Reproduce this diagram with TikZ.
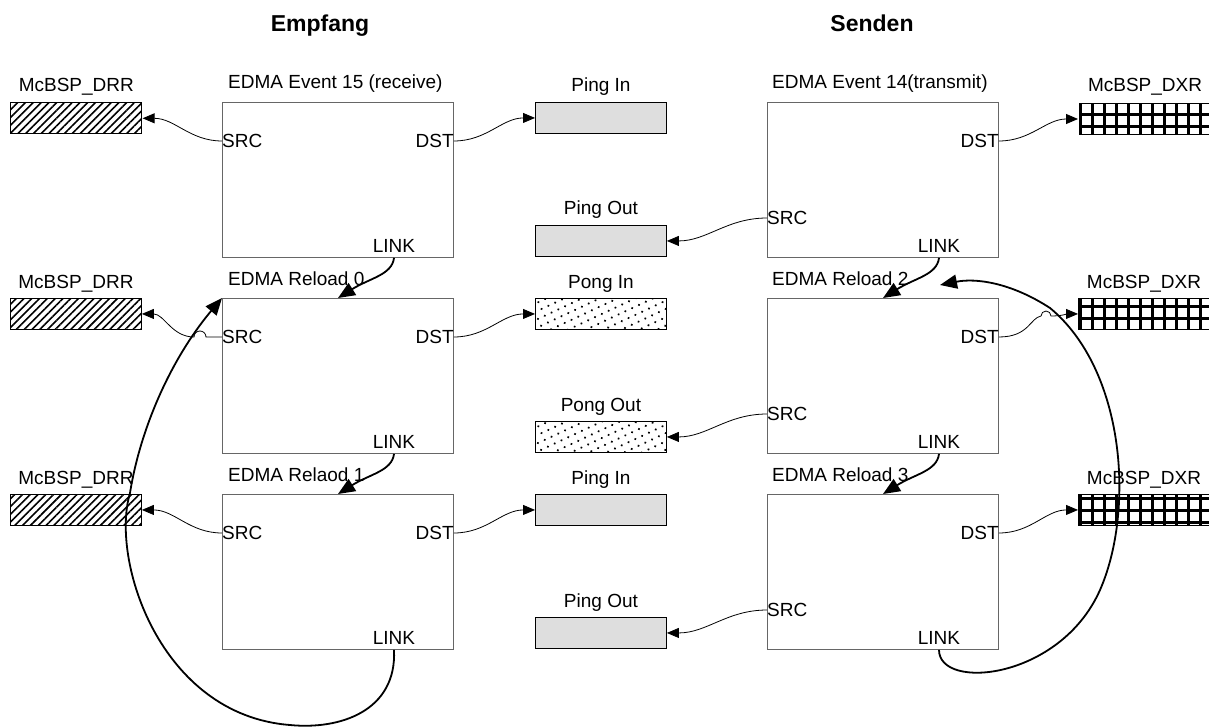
\documentclass[tikz,border=0pt]{standalone}
\usepackage{fontspec}
\setmainfont{Liberation Sans}
\usetikzlibrary{arrows.meta,patterns.meta,calc}

\begin{document}
\begin{tikzpicture}[x=1pt,y=-1pt,
  every node/.style={font=\fontsize{19}{22}\selectfont, inner sep=0pt},
  edma/.style={draw=black!60, line width=0.9pt, minimum width=231pt, minimum height=155pt, anchor=north west},
  buf/.style={draw=black, line width=0.9pt, minimum width=131pt, minimum height=31pt, anchor=north west},
  ping/.style={buf, fill=black!13},
  pong/.style={buf, pattern={Dots[distance=7.5pt,radius=1.2pt,angle=25]}},
  drr/.style={buf, pattern={Lines[angle=45,distance=5.5pt,line width=1.6pt]}},
  dxr/.style={buf, pattern={Hatch[angle=0,distance=12pt,line width=3pt]}},
  caption/.style={anchor=base},
  boxtitle/.style={anchor=base west},
  heading/.style={anchor=base, font=\fontsize{23}{26}\selectfont\bfseries},
  feed/.style={line width=0.8pt, -{Triangle[length=12pt,width=10pt]}},
  chain/.style={line width=1.8pt, -{Triangle[length=17pt,width=14pt]}},
]
\useasboundingbox (0,0) rectangle (1209,727);

% column headings
\node[heading] (hrx) at (320,32) {Empfang};
\node[heading] (htx) at (872,32) {Senden};

% parameter sets, ports and buffers for the three rows
\foreach \i/\y in {1/102,2/298,3/494} {
  \node[edma] (L\i) at (222,\y) {};
  \node[edma] (R\i) at (767,\y) {};
  \node[anchor=west]  (Ls\i) at ($(L\i.north west)+(0,39)$) {SRC};
  \node[anchor=east]  (Ld\i) at ($(L\i.north east)+(0,39)$) {DST};
  \node[anchor=south] (Ll\i) at ($(L\i.south west)+(172,-5)$) {LINK};
  \node[anchor=east]  (Rd\i) at ($(R\i.north east)+(0,39)$) {DST};
  \node[anchor=west]  (Rs\i) at ($(R\i.north west)+(0,116)$) {SRC};
  \node[anchor=south] (Rl\i) at ($(R\i.south west)+(172,-5)$) {LINK};
  \node[drr] (drr\i) at (10,\y) {};
  \node[dxr] (dxr\i) at (1078,\y) {};
  \node[caption] (cdrr\i) at ($(drr\i.north)+(0,-10)$) {McBSP\_DRR};
  \node[caption] (cdxr\i) at ($(dxr\i.north)+(0,-10)$) {McBSP\_DXR};
  \coordinate (Lin\i) at ($(L\i.north west)+(116,0)$);
  \coordinate (Rin\i) at ($(R\i.north west)+(116,0)$);
}

% box titles
\node[boxtitle] (tL1) at ($(L1.north west)+(6,-13)$) {EDMA Event 15 (receive)};
\node[boxtitle] (tL2) at ($(L2.north west)+(6,-13)$) {EDMA Reload 0};
\node[boxtitle] (tL3) at ($(L3.north west)+(6,-13)$) {EDMA Relaod 1};
\node[boxtitle] (tR1) at ($(R1.north west)+(5,-13)$) {EDMA Event 14(transmit)};
\node[boxtitle] (tR2) at ($(R2.north west)+(5,-13)$) {EDMA Reload 2};
\node[boxtitle] (tR3) at ($(R3.north west)+(5,-13)$) {EDMA Reload 3};

% ping/pong buffers
\node[ping] (in1)  at (535,102) {};
\node[ping] (out1) at (535,225) {};
\node[pong] (in2)  at (535,298) {};
\node[pong] (out2) at (535,421) {};
\node[ping] (in3)  at (535,494) {};
\node[ping] (out3) at (535,617) {};
\node[caption] (cin1)  at ($(in1.north)+(0,-10)$)  {Ping In};
\node[caption] (cout1) at ($(out1.north)+(0,-10)$) {Ping Out};
\node[caption] (cin2)  at ($(in2.north)+(0,-10)$)  {Pong In};
\node[caption] (cout2) at ($(out2.north)+(0,-10)$) {Pong Out};
\node[caption] (cin3)  at ($(in3.north)+(0,-10)$)  {Ping In};
\node[caption] (cout3) at ($(out3.north)+(0,-10)$) {Ping Out};

% data transfers
\draw[feed] (Ls1.west) to[out=180,in=0] (drr1.east);
\draw[feed] (Ls3.west) to[out=180,in=0] (drr3.east);
\draw[feed] (Ls2.west) -- ++(-16,0) arc[start angle=0,end angle=-180,radius=6]
            to[out=180,in=0] (drr2.east);
\foreach \i in {1,2,3} {
  \draw[feed] (Ld\i.east) to[out=0,in=180] (in\i.west);
  \draw[feed] (Rs\i.west) to[out=180,in=0] (out\i.east);
}
\draw[feed] (Rd1.east) to[out=0,in=180] (dxr1.west);
\draw[feed] (Rd3.east) to[out=0,in=180] (dxr3.west);
\draw[feed] (Rd2.east) .. controls +(30,0) and (1030,318) .. (1041,316)
            arc[start angle=180,end angle=360,radius=5]
            to[out=0,in=180] (dxr2.west);

% link chain
\draw[chain] (Ll1 |- L1.south) .. controls +(-2,17) and +(32,-20) .. (Lin2);
\draw[chain] (Ll2 |- L2.south) .. controls +(-2,17) and +(32,-20) .. (Lin3);
\draw[chain] (Rl1 |- R1.south) .. controls +(-2,17) and +(32,-20) .. (Rin2);
\draw[chain] (Rl2 |- R2.south) .. controls +(-2,17) and +(32,-20) .. (Rin3);

% reload 1 links back to reload 0, reload 3 back to reload 2
\coordinate (Lret) at (L2.north west);
\coordinate (Rret) at ($(R2.north west)+(173,-13)$);
\draw[chain] (Ll3 |- L3.south)
  .. controls +(3,61) and (340,730) .. (290,725)
  .. controls (160,715) and (110,560) .. (130,493)
  .. controls (140,430) and (170,360) .. (Lret);
\draw[chain] (Rl3 |- R3.south)
  .. controls +(0,41) and (1060,680) .. (1100,590)
  .. controls (1135,510) and (1125,370) .. (1050,308)
  .. controls (1010,282) and (975,278) .. (Rret);
\end{tikzpicture}
\end{document}
